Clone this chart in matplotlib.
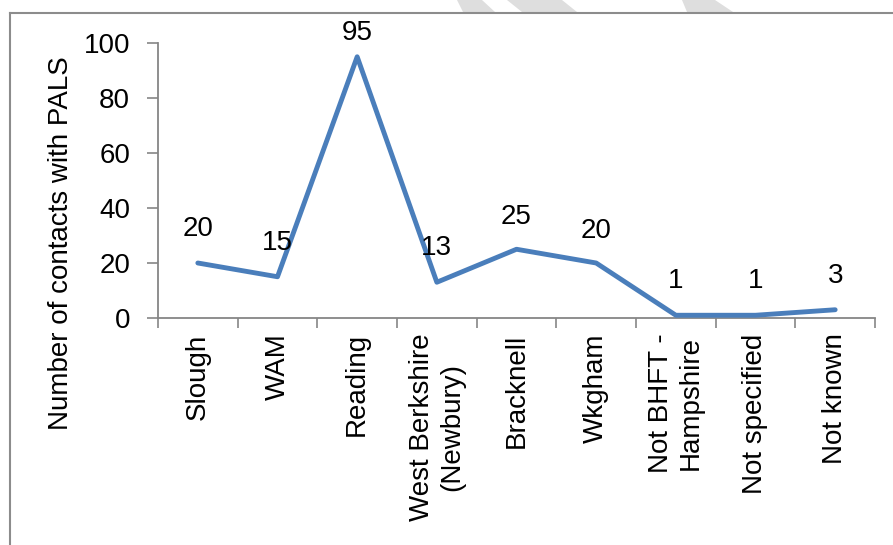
import numpy as np
import matplotlib
matplotlib.use("Agg")
import matplotlib.pyplot as plt
from matplotlib.lines import Line2D
from matplotlib.patches import Polygon

plt.rcParams['font.family'] = ['Liberation Sans', 'DejaVu Sans']

# contacts per locality
areas = ["Slough", "WAM", "Reading", "West Berkshire\n(Newbury)", "Bracknell",
         "Wkgham", "Not BHFT -\nHampshire", "Not specified", "Not known"]
contacts = [20, 15, 95, 13, 25, 20, 1, 1, 3]
yticks = [0, 20, 40, 60, 80, 100]

# label offsets above each point (points); the peak label sits closer
label_offsets = [24.5, 24.5, 17, 24.5, 23, 23, 24.5, 24.5, 24.5]

line_col = "#4a7ebb"
axis_col = "#868686"
fs = 20

fig = plt.figure(figsize=(8.93, 5.45), dpi=100)
ax = fig.add_axes([158 / 893, 1 - 318 / 545, 717 / 893, 275 / 545])

x = np.arange(len(areas))
ax.plot(x, contacts, color=line_col, lw=3.5, solid_joinstyle="round",
        solid_capstyle="round", clip_on=False, zorder=3)

for xi, v, off in zip(x, contacts, label_offsets):
    ax.annotate(str(v), (xi, v), xytext=(0, off), textcoords="offset points",
                ha="center", va="center", fontsize=fs, color="black")

ax.set_xlim(-0.5, len(areas) - 0.5)
ax.set_ylim(0, 100)
ax.set_yticks(yticks)
ax.tick_params(axis="y", direction="out", length=8, width=1.2, color=axis_col,
               labelsize=fs, pad=12)

# category labels at centres, tick marks between categories
ax.set_xticks(x)
ax.set_xticklabels(areas, rotation=90, ha="center", va="top",
                   multialignment="center", fontsize=fs)
ax.set_xticks(np.arange(-0.5, len(areas), 1), minor=True)
ax.tick_params(axis="x", which="major", length=0, pad=11)
ax.tick_params(axis="x", which="minor", direction="out", length=7, width=1.2,
               color=axis_col)

for side in ["top", "right"]:
    ax.spines[side].set_visible(False)
for side in ["left", "bottom"]:
    ax.spines[side].set_color(axis_col)
    ax.spines[side].set_linewidth(1.3)

ax.set_ylabel("Number of contacts with PALS", fontsize=fs, va="center")
ax.yaxis.set_label_coords(-0.135, 0.273)

# outer chart frame (left and top edges)
W, H = 893, 545
fig.add_artist(Line2D([10 / W, 10 / W], [0, 1 - 12.5 / H], transform=fig.transFigure,
                      color="#8c8c8c", lw=1.5))
fig.add_artist(Line2D([10 / W, 1], [1 - 12.5 / H, 1 - 12.5 / H], transform=fig.transFigure,
                      color="#8c8c8c", lw=1.5))

# faint watermark strokes above the frame
strokes = [
    [(457, 0), (482, 0), (495, 12), (463, 12)],
    [(507, 0), (562, 0), (577, 12), (522, 12)],
    [(682, 0), (715, 0), (733, 12), (687, 12)],
]
for s in strokes:
    pts = [(px / W, 1 - py / H) for px, py in s]
    fig.add_artist(Polygon(pts, closed=True, transform=fig.transFigure,
                           facecolor="#dedede", edgecolor="none", zorder=0))

fig.savefig("out.png", dpi=100)
